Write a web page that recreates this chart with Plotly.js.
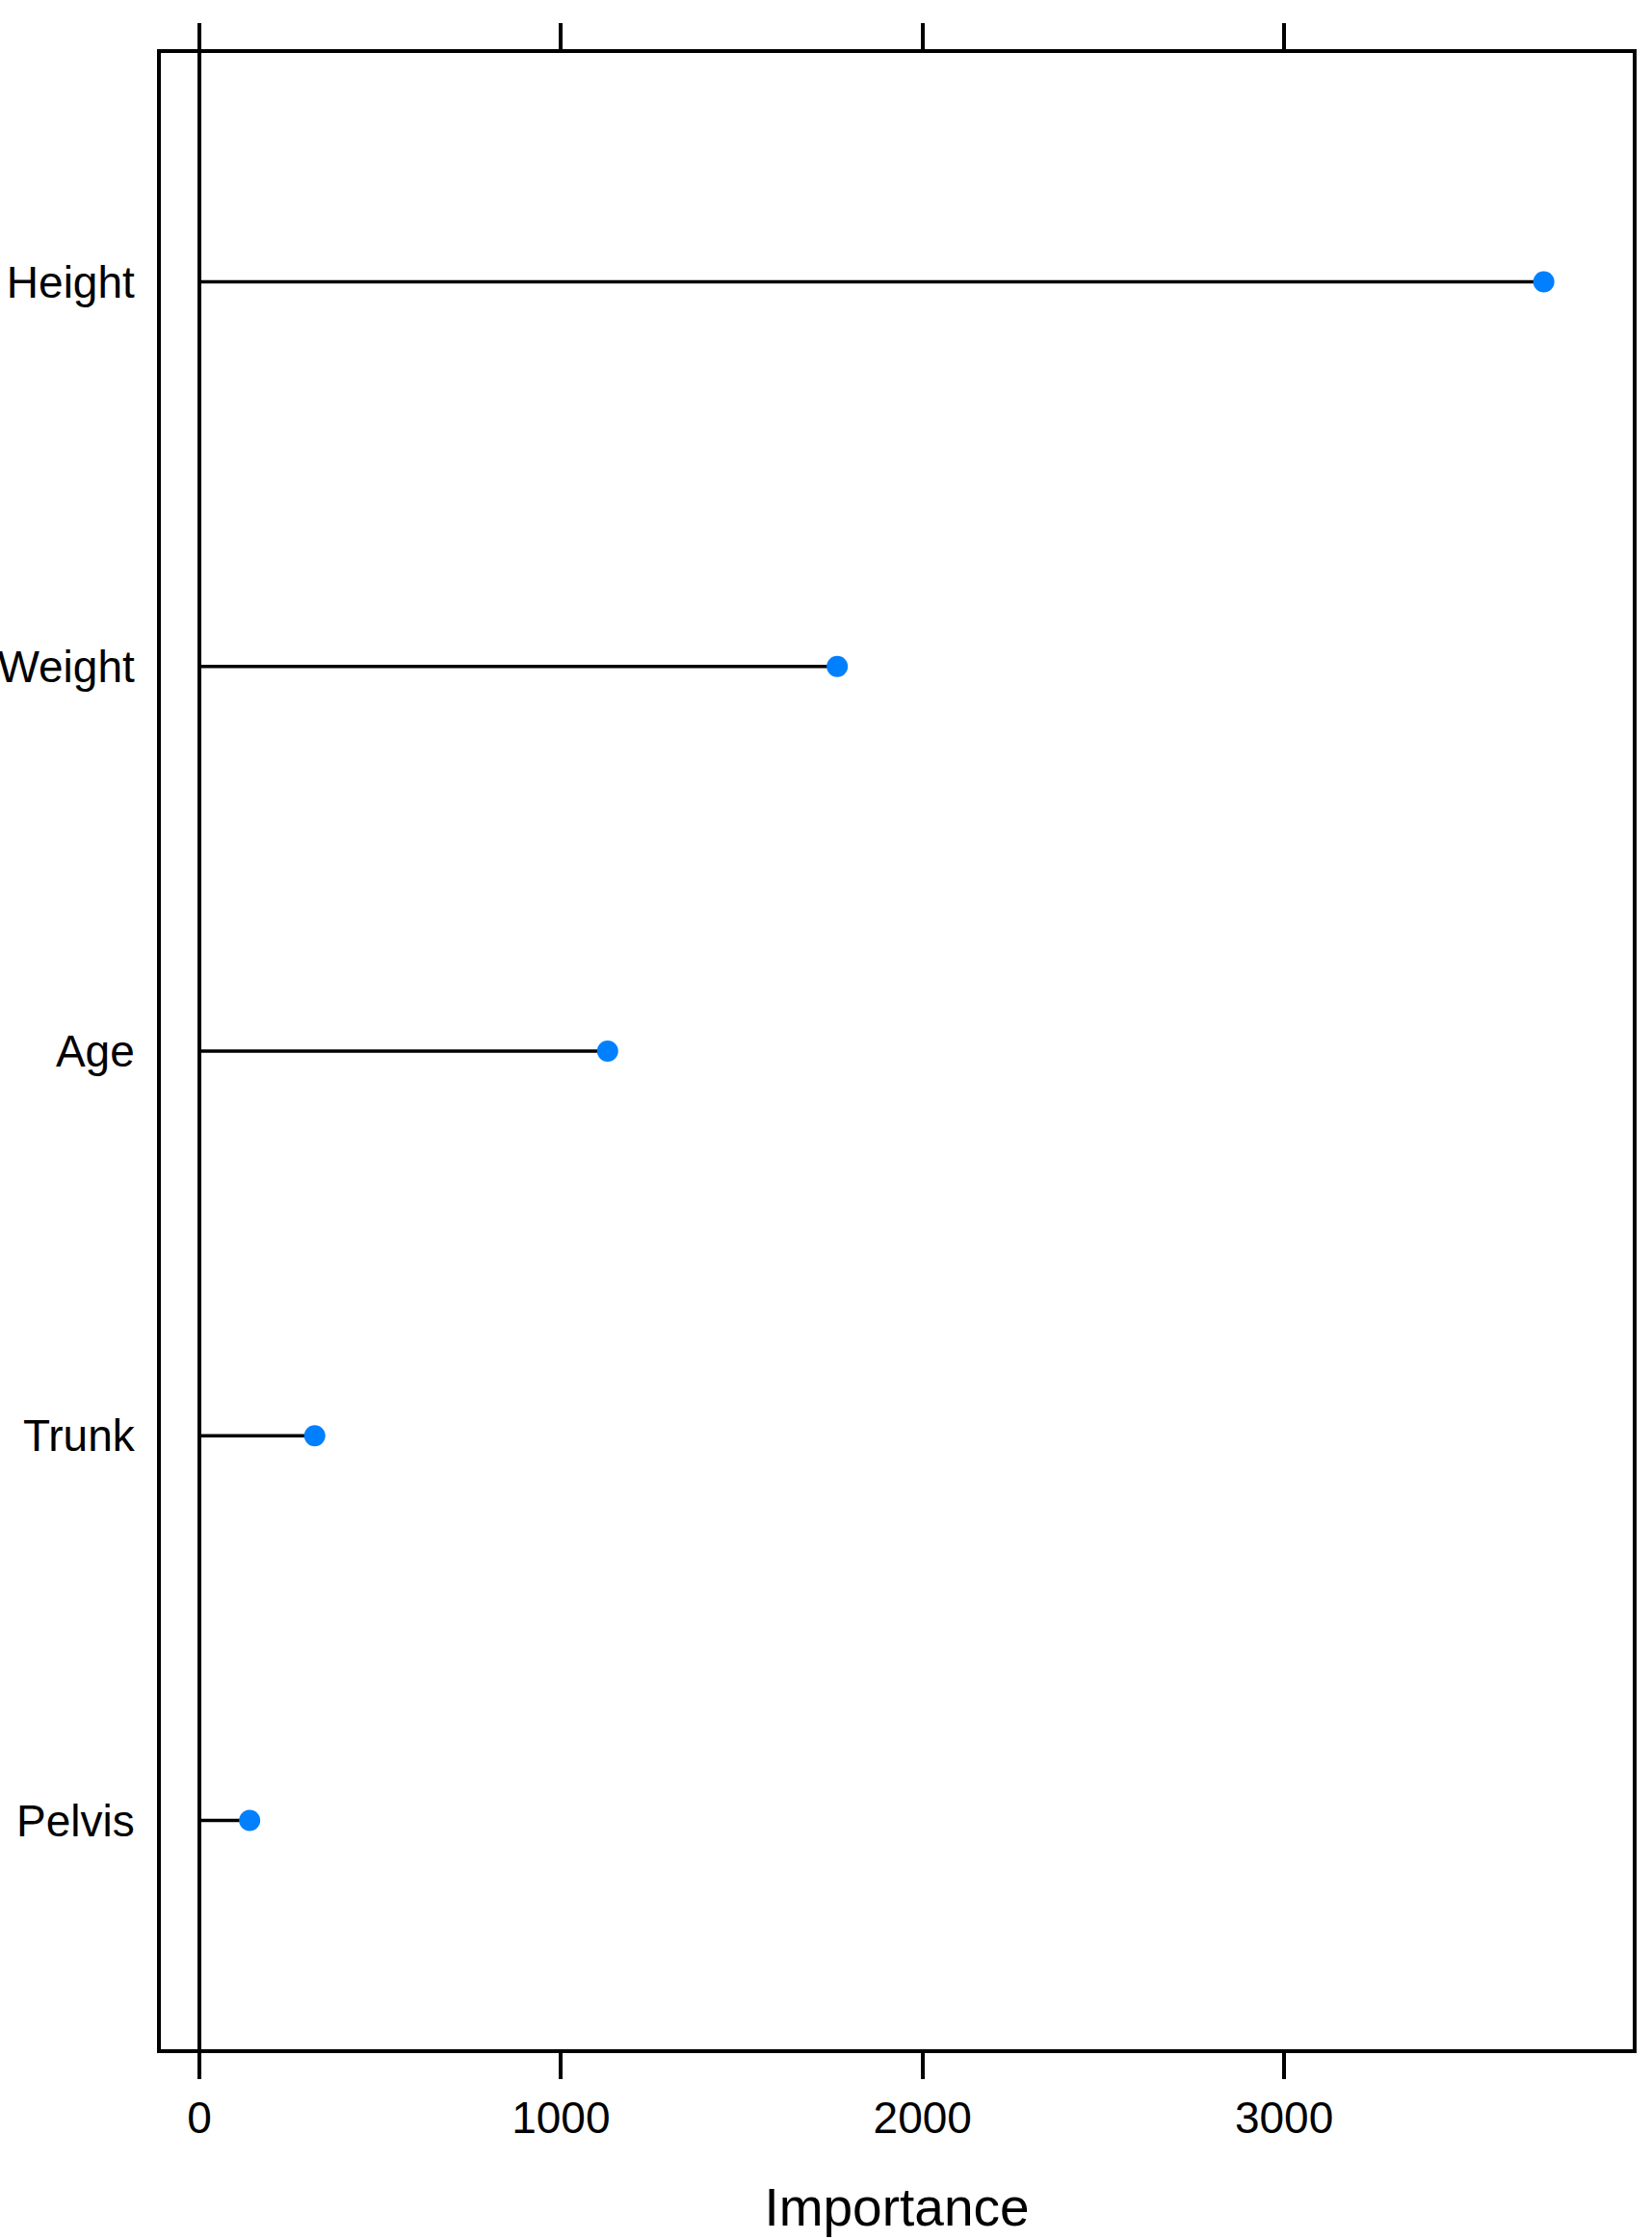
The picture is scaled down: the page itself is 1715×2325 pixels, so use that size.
<!DOCTYPE html>
<html>
<head>
<meta charset="utf-8">
<script src="https://cdn.plot.ly/plotly-3.0.1.min.js"></script>
<style>
  html, body { margin: 0; padding: 0; background: #fff; }
  #chart { width: 1715px; height: 2325px; }
</style>
</head>
<body>
<div id="chart"></div>
<script>
// variable importance, bottom to top
let variables = ['Pelvis', 'Trunk', 'Age', 'Weight', 'Height'];
let importance = [139, 319, 1129, 1764, 3718];
let tickValues = [0, 1000, 2000, 3000];
let tickLabels = ['0', '1000', '2000', '3000'];

// stems from 0 to each value, separated by gaps
let stemX = [];
let stemY = [];
for (let i = 0; i < variables.length; i++) {
  stemX.push(0, importance[i], null);
  stemY.push(variables[i], variables[i], null);
}

let stems = {
  x: stemX,
  y: stemY,
  type: 'scatter',
  mode: 'lines',
  line: { color: 'black', width: 3.5 },
  hoverinfo: 'skip',
  showlegend: false
};

let dots = {
  x: importance,
  y: variables,
  type: 'scatter',
  mode: 'markers',
  marker: { color: '#0080FF', size: 22 },
  showlegend: false
};

let font = { family: 'Liberation Sans, Arial, sans-serif', color: 'black' };

let layout = {
  width: 1715,
  height: 2325,
  margin: { l: 166.5, r: 20, t: 54.5, b: 197.5 },
  paper_bgcolor: 'white',
  plot_bgcolor: 'white',
  font: font,
  showlegend: false,
  xaxis: {
    range: [-106.5, 3964],
    tickvals: tickValues,
    ticktext: tickLabels,
    ticks: 'outside',
    ticklen: 27,
    tickwidth: 4,
    tickcolor: 'black',
    ticklabelstandoff: 1,
    tickfont: { family: font.family, size: 46, color: 'black' },
    showline: true,
    linecolor: 'black',
    linewidth: 4,
    mirror: 'ticks',
    showgrid: false,
    zeroline: true,
    zerolinecolor: 'black',
    zerolinewidth: 4,
    title: { text: 'Importance', font: { family: font.family, size: 55, color: 'black' }, standoff: 49 }
  },
  yaxis: {
    type: 'category',
    categoryorder: 'array',
    categoryarray: variables,
    range: [-0.595, 4.595],
    ticks: '',
    ticklabelstandoff: 14,
    tickfont: { family: font.family, size: 46, color: 'black' },
    showline: true,
    linecolor: 'black',
    linewidth: 4,
    mirror: true,
    showgrid: false,
    zeroline: false
  }
};

Plotly.newPlot('chart', [stems, dots], layout, { staticPlot: true });
</script>
</body>
</html>
